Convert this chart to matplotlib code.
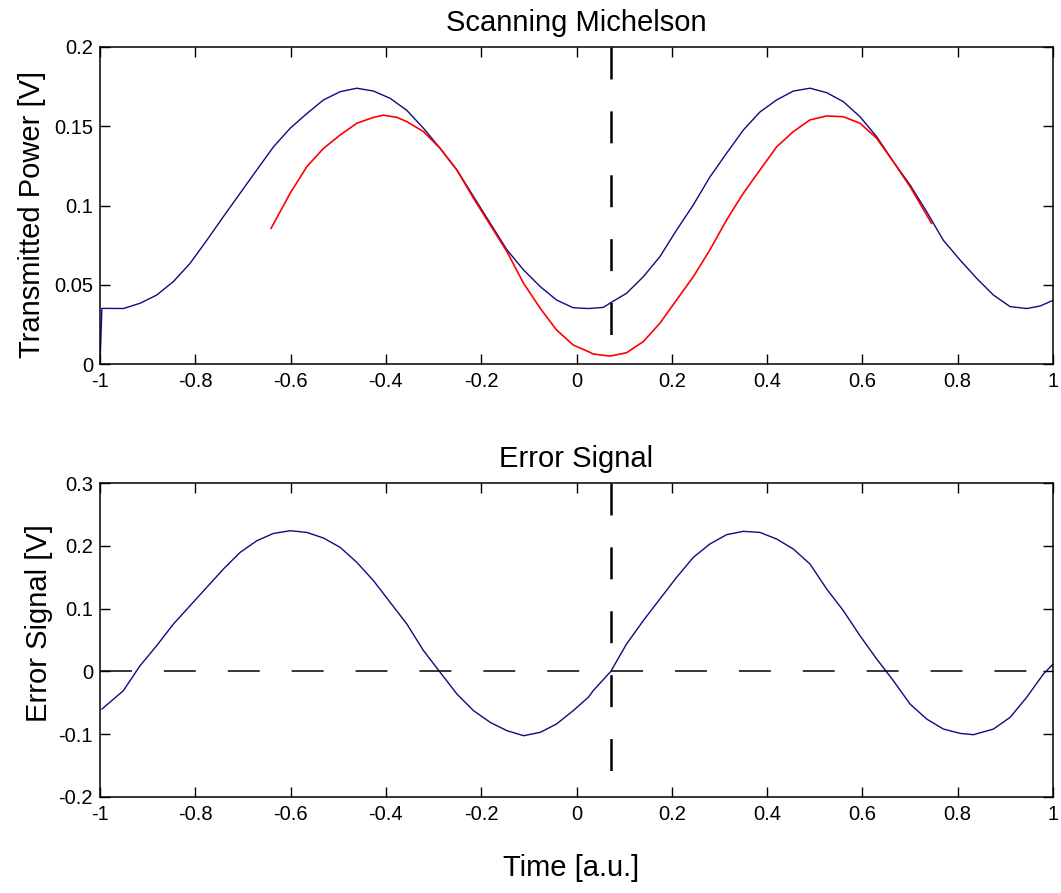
import matplotlib
matplotlib.use("Agg")
import matplotlib.pyplot as plt

plt.rcParams['font.family'] = ['Liberation Sans', 'DejaVu Sans']
plt.rcParams['lines.scale_dashes'] = False

# ---------------- data ----------------
# Top panel: transmitted power, blue trace
tp_blue_x = [-1.0, -0.996, -0.951, -0.916, -0.881, -0.846, -0.811, -0.776, -0.741, -0.706,
             -0.671, -0.636, -0.601, -0.566, -0.531, -0.496, -0.461, -0.426, -0.391, -0.356,
             -0.321, -0.286, -0.251, -0.216, -0.181, -0.146, -0.111, -0.076, -0.042, -0.007,
             0.025, 0.056, 0.072, 0.105, 0.140, 0.175, 0.210, 0.245, 0.280, 0.315,
             0.350, 0.385, 0.420, 0.455, 0.490, 0.525, 0.560, 0.595, 0.630, 0.665,
             0.700, 0.735, 0.770, 0.805, 0.840, 0.875, 0.910, 0.945, 0.973, 0.999]
tp_blue_y = [0.0, 0.0351, 0.0350, 0.0383, 0.0435, 0.0520, 0.0635, 0.0780, 0.0930, 0.1077,
             0.1224, 0.1370, 0.1487, 0.1580, 0.1666, 0.1718, 0.1740, 0.1722, 0.1676, 0.1600,
             0.1487, 0.1360, 0.1224, 0.1056, 0.0888, 0.0720, 0.0593, 0.0488, 0.0404, 0.0355,
             0.0350, 0.0357, 0.0387, 0.0446, 0.0550, 0.0677, 0.0845, 0.1003, 0.1180, 0.1330,
             0.1476, 0.1590, 0.1666, 0.1722, 0.1740, 0.1712, 0.1655, 0.1560, 0.1434, 0.1276,
             0.1130, 0.0960, 0.0780, 0.0656, 0.0540, 0.0435, 0.0362, 0.0350, 0.0366, 0.0400]

# Top panel: red trace
tp_red_x = [-0.641, -0.601, -0.566, -0.531, -0.496, -0.461, -0.426, -0.405, -0.377, -0.356,
            -0.321, -0.286, -0.251, -0.216, -0.181, -0.146, -0.111, -0.076, -0.042, -0.007,
            0.025, 0.035, 0.070, 0.105, 0.140, 0.175, 0.210, 0.245, 0.280, 0.315,
            0.350, 0.385, 0.420, 0.455, 0.490, 0.525, 0.560, 0.595, 0.630, 0.665,
            0.700, 0.745]
tp_red_y = [0.0856, 0.1077, 0.1245, 0.1360, 0.1445, 0.1519, 0.1556, 0.1570, 0.1556, 0.1529,
            0.1466, 0.1360, 0.1224, 0.1045, 0.0877, 0.0709, 0.0509, 0.0351, 0.0215, 0.0120,
            0.0078, 0.0063, 0.0050, 0.0071, 0.0141, 0.0257, 0.0404, 0.0550, 0.0720, 0.0909,
            0.1077, 0.1224, 0.1370, 0.1466, 0.1540, 0.1565, 0.1560, 0.1519, 0.1424, 0.1276,
            0.1119, 0.0888]

# Bottom panel: error signal
es_x = [-0.996, -0.951, -0.916, -0.881, -0.846, -0.811, -0.776, -0.741, -0.706, -0.671,
        -0.636, -0.601, -0.566, -0.531, -0.496, -0.461, -0.426, -0.391, -0.356, -0.321,
        -0.286, -0.251, -0.216, -0.181, -0.146, -0.111, -0.076, -0.042, -0.007, 0.025,
        0.035, 0.072, 0.105, 0.140, 0.175, 0.210, 0.245, 0.280, 0.315, 0.350,
        0.385, 0.420, 0.455, 0.490, 0.525, 0.560, 0.595, 0.630, 0.665, 0.700,
        0.735, 0.770, 0.805, 0.833, 0.875, 0.910, 0.945, 0.980, 0.999]
es_y = [-0.0600, -0.0307, 0.0090, 0.0410, 0.0754, 0.1046, 0.1338, 0.1630, 0.1895, 0.2080,
        0.2197, 0.2240, 0.2213, 0.2124, 0.1975, 0.1736, 0.1444, 0.1099, 0.0754, 0.0330,
        -0.0016, -0.0360, -0.0626, -0.0812, -0.0944, -0.1024, -0.0970, -0.0838, -0.0626, -0.0410,
        -0.0307, 0.0000, 0.0436, 0.0807, 0.1153, 0.1497, 0.1815, 0.2029, 0.2177, 0.2230,
        0.2213, 0.2108, 0.1949, 0.1710, 0.1312, 0.0967, 0.0568, 0.0197, -0.0148, -0.0520,
        -0.0759, -0.0918, -0.0987, -0.1008, -0.0918, -0.0732, -0.0410, -0.0040, 0.0107]

marker_x = 0.072
top_ylim = (0, 0.2)
bot_ylim = (-0.2, 0.3)
x_ticks = [-1, -0.8, -0.6, -0.4, -0.2, 0, 0.2, 0.4, 0.6, 0.8, 1]
x_ticklabels = ['-1', '-0.8', '-0.6', '-0.4', '-0.2', '0', '0.2', '0.4', '0.6', '0.8', '1']
top_yticks = [0, 0.05, 0.1, 0.15, 0.2]
top_yticklabels = ['0', '0.05', '0.1', '0.15', '0.2']
bot_yticks = [-0.2, -0.1, 0, 0.1, 0.2, 0.3]
bot_yticklabels = ['-0.2', '-0.1', '0', '0.1', '0.2', '0.3']

# ---------------- figure ----------------
W, H = 1061, 893
fig = plt.figure(figsize=(W / 100, H / 100), dpi=100)
ax1 = fig.add_axes([100 / W, 1 - 364 / H, 953 / W, 317 / H])
ax2 = fig.add_axes([100 / W, 1 - 797 / H, 953 / W, 314 / H])

navy = '#0c0c82'

ax1.plot(tp_blue_x, tp_blue_y, color=navy, lw=1.0)
ax1.plot(tp_red_x, tp_red_y, color='#ff0000', lw=1.2)
ax1.plot([marker_x, marker_x], [top_ylim[1], top_ylim[0]], color='black', lw=1.8,
         dashes=(23, 23))

ax2.plot(es_x, es_y, color=navy, lw=1.0)
ax2.plot([-1, 1], [0, 0], color='black', lw=1.1, dashes=(23, 23))
ax2.plot([marker_x, marker_x], [bot_ylim[1], bot_ylim[0]], color='black', lw=1.8,
         dashes=(23, 23))

for ax, ylim, yt, ytl in [(ax1, top_ylim, top_yticks, top_yticklabels),
                          (ax2, bot_ylim, bot_yticks, bot_yticklabels)]:
    ax.set_xlim(-1, 1)
    ax.set_ylim(*ylim)
    ax.set_xticks(x_ticks)
    ax.set_xticklabels(x_ticklabels)
    ax.set_yticks(yt)
    ax.set_yticklabels(ytl)
    ax.tick_params(direction='in', length=7, width=1.0, top=True, right=True,
                   labelsize=14.5)
    ax.tick_params(axis='x', pad=6)
    ax.tick_params(axis='y', pad=5)
    for s in ax.spines.values():
        s.set_linewidth(1.1)

ax1.set_title('Scanning Michelson', fontsize=21, pad=11.5)
ax2.set_title('Error Signal', fontsize=21, pad=11.5)
ax1.set_ylabel('Transmitted Power [V]', fontsize=21)
ax1.yaxis.set_label_coords((46 - 100) / 953, (364 - 214) / 317)
ax2.set_ylabel('Error Signal [V]', fontsize=21)
ax2.yaxis.set_label_coords((53 - 100) / 953, (797 - 623) / 314)
ax2.set_xlabel('Time [a.u.]', fontsize=21)
ax2.xaxis.set_label_coords((571 - 100) / 953, -(854 - 797) / 314)

fig.savefig('out.png', dpi=100)
